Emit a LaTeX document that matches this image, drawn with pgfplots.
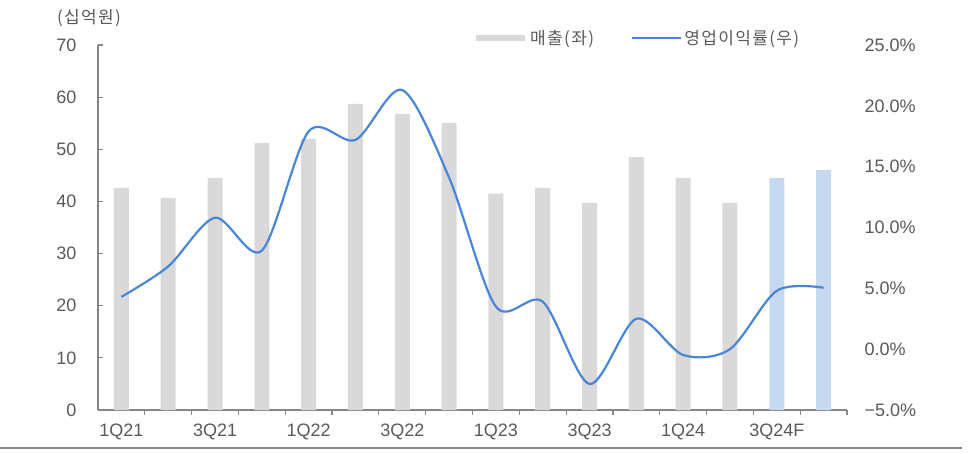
\documentclass[border=0pt]{standalone}
\usepackage{pgfplots}
\pgfplotsset{compat=1.18}
\usepackage{fontspec}
\setmainfont{Liberation Sans}
\newfontfamily\kr{Noto Sans CJK KR}
\newfontfamily\krs[LetterSpace=8]{Noto Sans CJK KR}
\definecolor{bargray}{RGB}{217,217,217}
\definecolor{barblue}{RGB}{198,217,240}
\definecolor{linecol}{RGB}{74,134,216}
\definecolor{axgray}{RGB}{134,134,134}
\definecolor{txtgray}{RGB}{89,89,89}
\begin{document}
\begin{tikzpicture}
\useasboundingbox (-98pt,-43pt) rectangle (871pt,410pt);
\begin{axis}[
  name=main,
  scale only axis, width=749pt, height=365pt,
  xmin=-0.5, xmax=15.5, ymin=0, ymax=70,
  axis x line*=bottom, axis y line*=left,
  xtick pos=lower, ytick pos=left,
  axis line style={-, draw=axgray, line width=1.4pt},
  tick align=inside, major tick length=5pt,
  tick style={draw=axgray, line width=1.2pt},
  xtick={0.5,1.5,...,15.5}, xticklabels={},
  extra x ticks={0,2,...,14},
  extra x tick labels={1Q21,3Q21,1Q22,3Q22,1Q23,3Q23,1Q24,3Q24F},
  extra x tick style={major tick length=0pt, tick style={draw=none}},
  ytick={0,10,...,70},
  yticklabels={0,10,20,30,40,50,60,70},
  ticklabel style={font=\fontsize{18}{20}\selectfont, text=txtgray},
  yticklabel style={xshift=-18pt},
  xticklabel style={yshift=-10pt},
  ybar, bar width=15pt,
]
\addplot[fill=bargray, draw=none, bar shift=0pt] coordinates {
 (0,42.6) (1,40.7) (2,44.5) (3,51.2) (4,52.0) (5,58.7) (6,56.8) (7,55.0)
 (8,41.5) (9,42.6) (10,39.7) (11,48.5) (12,44.5) (13,39.7)};
\addplot[fill=barblue, draw=none, bar shift=0pt] coordinates {
 (14,44.5) (15,46.0)};
\end{axis}
\node[font=\krs\fontsize{17}{19}\selectfont, text=txtgray] at (-9pt,392pt) {(십억원)};
\begin{axis}[
  scale only axis, width=749pt, height=365pt,
  xmin=-0.5, xmax=15.5, ymin=-5, ymax=25,
  axis x line=none, axis y line*=right, ytick pos=right,
  y axis line style={draw=none},
  major tick length=0pt,
  ytick={-5,0,5,10,15,20,25},
  yticklabels={−5.0\%,0.0\%,5.0\%,10.0\%,15.0\%,20.0\%,25.0\%},
  yticklabel style={font=\fontsize{18}{20}\selectfont, text=txtgray, anchor=west, xshift=14pt},
  legend style={draw=none, fill=none, at={(rel axis cs:0.5007,1.019)}, anchor=west,
    font=\krs\fontsize{17}{19}\selectfont, text=txtgray, inner xsep=0pt,
    legend columns=2, /tikz/every even column/.append style={column sep=35pt}},
  legend image code/.code={\draw[#1] (0pt,0pt) -- (49pt,0pt);},
]
\addlegendimage{line width=6pt, color=bargray}
\addlegendentry{매출(좌)}
\addplot[smooth, color=linecol, line width=2.2pt, mark=none] coordinates {
 (0,4.3) (1,6.8) (2,10.8) (3,8.1) (4,17.9) (5,17.2) (6,21.3) (7,14.1)
 (8,3.5) (9,3.9) (10,-2.86) (11,2.5) (12,-0.48) (13,0.0) (14,4.8) (15,5.05)};
\addlegendentry{영업이익률(우)}
\end{axis}
\draw[axgray, line width=2.6pt] (-98pt,-38pt) -- (864pt,-38pt);
\end{tikzpicture}
\end{document}
